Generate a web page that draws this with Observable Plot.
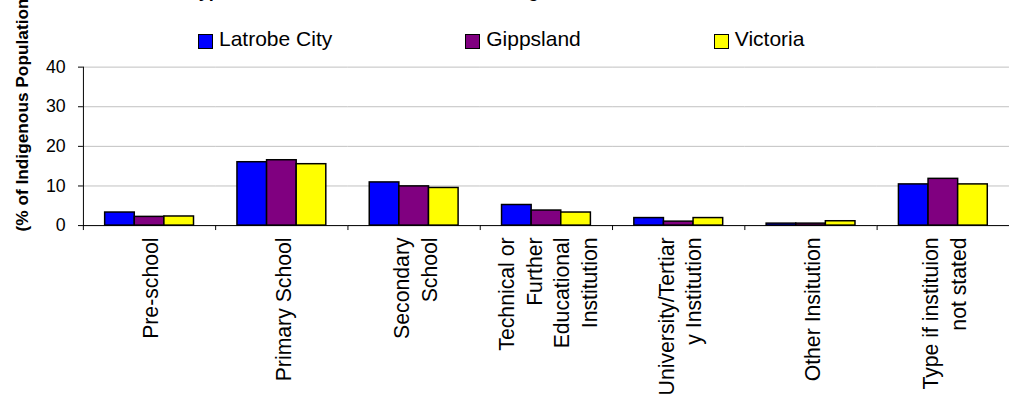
<!DOCTYPE html>
<html><head><meta charset="utf-8">
<script src="https://cdn.jsdelivr.net/npm/d3@7"></script>
<script src="https://cdn.jsdelivr.net/npm/@observablehq/plot@0.6"></script>
<style>
html,body{margin:0;padding:0;overflow:hidden;background:#fff;width:1009px;height:405px;}
body{position:relative;font-family:"Liberation Sans",Arial,sans-serif;color:#000;}
#chart{position:absolute;left:0;top:0;}
#title{position:absolute;left:189px;top:-18px;font-weight:bold;font-size:18px;line-height:18px;white-space:nowrap;}
#legend{position:absolute;left:198px;top:27px;display:flex;gap:133px;font-size:21px;line-height:24px;}
.item{display:flex;align-items:center;}
.sw{box-sizing:border-box;width:15px;height:15px;border:1.5px solid #000;margin-right:6px;position:relative;top:2px;}
</style></head><body>
<div id="chart"></div>
<div id="title">Type of Educational Institution Attending</div>
<div id="legend"></div>
<script>
const categories = [
  "Pre-school",
  "Primary School",
  "Secondary\nSchool",
  "Technical or\nFurther\nEducational\nInstitution",
  "University/Tertiar\ny Institution",
  "Other Insitution",
  "Type if instituion\nnot stated"
];
const series = ["Latrobe City", "Gippsland", "Victoria"];
const colors = ["#0000ff", "#800080", "#ffff00"];
const latrobe   = [3.3, 16.0, 10.9, 5.2, 1.9, 0.5, 10.4];
const gippsland = [2.2, 16.5,  9.9, 3.8, 1.0, 0.5, 11.8];
const victoria  = [2.3, 15.5,  9.5, 3.3, 1.9, 1.1, 10.4];
const yTicks = [0, 10, 20, 30, 40];
const yLabel = "(% of Indigenous Population)";

const values = [latrobe, gippsland, victoria];
const data = categories.flatMap((c, i) => series.map((s, j) => ({category: c, series: s, value: values[j][i]})));

const W = 1022, H = 405, mL = 83, mR = 0, mT = 67.5, mB = 177;
const step = (W - mL - mR) / categories.length;

const chart = Plot.plot({
  width: W, height: H,
  marginLeft: mL, marginRight: mR, marginTop: mT, marginBottom: mB,
  style: {fontFamily: "Liberation Sans, Arial, sans-serif", color: "#000", background: "transparent", fontSize: "18px"},
  fx: {domain: categories, paddingInner: 0, paddingOuter: 0, label: null},
  x: {domain: series, paddingInner: 0, paddingOuter: 0.709, axis: null},
  y: {domain: [0, 40]},
  color: {domain: series, range: colors},
  marks: [
    Plot.gridY(yTicks, {stroke: "#c0c0c0", strokeOpacity: 1}),
    Plot.barY(data, {fx: "category", x: "series", y: "value", fill: "series", stroke: "#000", strokeWidth: 1.5}),
    Plot.ruleY([0], {stroke: "#000"}),
    Plot.frame({anchor: "left", facet: "super", stroke: "#000"}),
    Plot.axisY({ticks: yTicks, tickSize: 5, tickPadding: 13, fontSize: 18, label: null, stroke: "#000"}),
    Plot.text([yLabel], {facet: "super", frameAnchor: "bottom-left", rotate: -90, textAnchor: "start", lineAnchor: "top", dx: -69, dy: 6, fontSize: 17.5, fontWeight: "bold", fill: "#000"}),
    Plot.axisFx({anchor: "bottom", tickSize: 0, tickPadding: 12, tickRotate: -90, fontSize: 21.5, lineHeight: 1.3, label: null}),
    Plot.axisFx({anchor: "bottom", tickSize: 5, text: null, dx: -step / 2, label: null, stroke: "#000"})
  ]
});
document.getElementById("chart").appendChild(chart);

const legend = d3.select("#legend");
series.forEach((s, j) => {
  const it = legend.append("div").attr("class", "item");
  it.append("div").attr("class", "sw").style("background", colors[j]);
  it.append("span").text(s);
});
</script>
</body></html>
